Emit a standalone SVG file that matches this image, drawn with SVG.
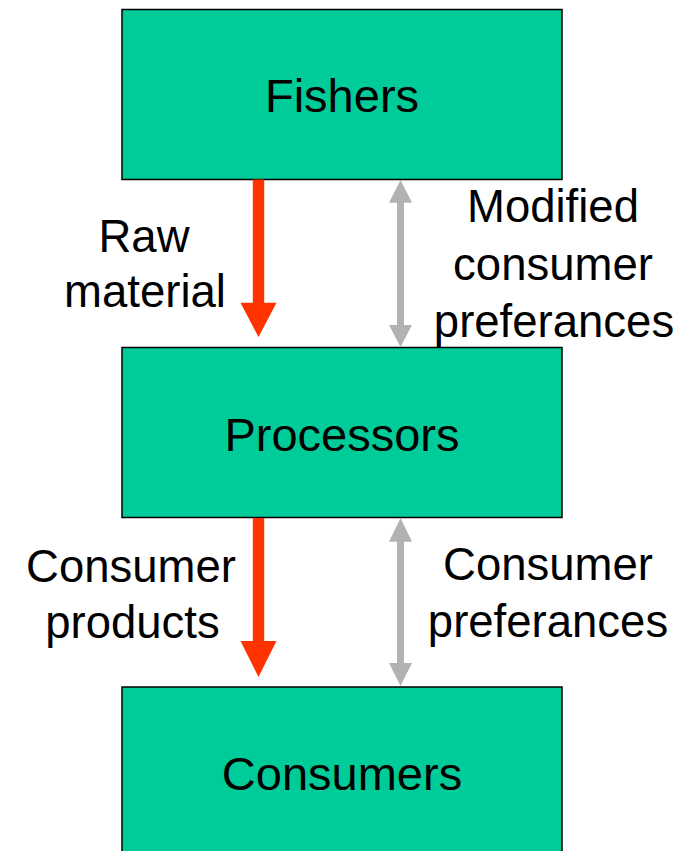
<svg xmlns="http://www.w3.org/2000/svg" width="696" height="851" viewBox="0 0 696 851">
<style>
.box{fill:#00CC99;stroke:#000;stroke-width:1.5}
.nt{font-family:"Liberation Sans",Arial,sans-serif;font-size:47px;fill:#000;text-anchor:middle}
.lb{font-family:"Liberation Sans",Arial,sans-serif;font-size:45.5px;fill:#000;text-anchor:middle}
.red{fill:#FF3300}
.gray{fill:#B2B2B2}
</style>
<rect width="696" height="851" fill="#fff"/>
<g id="fishers">
<rect class="box" x="122" y="9.5" width="440" height="170"/>
<text class="nt" x="342" y="111.5">Fishers</text>
</g>
<g id="processors">
<rect class="box" x="122" y="347.5" width="440" height="170"/>
<text class="nt" x="342" y="451">Processors</text>
</g>
<g id="consumers">
<rect class="box" x="122" y="687" width="440" height="180"/>
<text class="nt" x="342" y="790">Consumers</text>
</g>
<g id="connectors">
<polygon class="red" points="252.8,179.5 264.2,179.5 264.2,302.7 276.5,302.7 258.5,337 240.5,302.7 252.8,302.7"/>
<polygon class="gray" points="400.5,180 412,202.7 404,202.7 404,325 412,325 400.5,347 389,325 397,325 397,202.7 389,202.7"/>
<polygon class="red" points="252.8,518 264.2,518 264.2,641 276.5,641 258.5,677 240.5,641 252.8,641"/>
<polygon class="gray" points="400.5,518 412,541.7 404,541.7 404,663 412,663 400.5,686 389,663 397,663 397,541.7 389,541.7"/>
</g>
<g id="labels">
<text class="lb" x="144" y="251.7">Raw</text>
<text class="lb" x="145" y="306.7">material</text>
<text class="lb" x="553" y="222.3">Modified</text>
<text class="lb" x="553" y="279.5">consumer</text>
<text class="lb" x="554" y="336.7">preferances</text>
<text class="lb" x="131" y="582.3">Consumer</text>
<text class="lb" x="132.5" y="638.3">products</text>
<text class="lb" x="548" y="580">Consumer</text>
<text class="lb" x="548" y="636.5">preferances</text>
</g>
</svg>
